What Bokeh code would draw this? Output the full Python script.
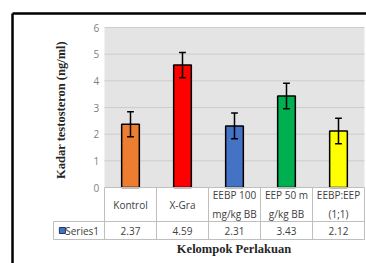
from bokeh.plotting import figure
from bokeh.models import Range1d, ColumnDataSource
from bokeh.core.properties import value
from bokeh.embed import file_html
from bokeh.resources import INLINE

# ---- data ----
categories = ["Kontrol", "X-Gra", "EEBP 100\nmg/kg BB", "EEP 50 m\ng/kg BB", "EEBP:EEP\n(1;1)"]
values = [2.37, 4.59, 2.31, 3.43, 2.12]
errors = [0.47, 0.47, 0.48, 0.48, 0.48]
value_labels = ["2.37", "4.59", "2.31", "3.43", "2.12"]
colors = ["#ED7D31", "#FF0000", "#4472C4", "#00B050", "#FFFF00"]
y_ticks = [0, 1, 2, 3, 4, 5, 6]
series_name = "Series1"
y_title = "Kadar testosteron (ng/ml)"
x_title = "Kelompok Perlakuan"

W, H = 366, 263
p = figure(width=W, height=H, output_backend="svg", toolbar_location=None,
           x_range=Range1d(-2.5, 4.5385), y_range=Range1d(-2.85, 7.0125),
           x_axis_location=None, y_axis_location=None, min_border=0,
           background_fill_color="white", border_fill_color="white")
p.outline_line_color = None
p.xgrid.visible = False
p.ygrid.visible = False

n = len(values)
xs = list(range(n))
ymax = y_ticks[-1]

# plot area background
p.quad(left=[-0.5], right=[n - 0.5], bottom=[0], top=[ymax], fill_color="#e4e4e4", line_color=None)
# gridlines
p.segment(x0=[-0.5] * (len(y_ticks) - 1), x1=[n - 0.5] * (len(y_ticks) - 1),
          y0=y_ticks[1:], y1=y_ticks[1:], line_color="#cdcdcd", line_width=1)

# bars
upper = [v + e for v, e in zip(values, errors)]
lower = [v - e for v, e in zip(values, errors)]
src = ColumnDataSource(dict(x=xs, top=values, color=colors, upper=upper, lower=lower,
                            cl=[x - 0.065 for x in xs], cr=[x + 0.065 for x in xs]))
p.vbar(x="x", top="top", bottom=0, width=0.34, fill_color="color", line_color="black",
       line_width=1.5, source=src)
# error bars
p.segment(x0="x", x1="x", y0="lower", y1="upper", line_color="black", line_width=1.5, source=src)
p.segment(x0="cl", x1="cr", y0="upper", y1="upper", line_color="black", line_width=1.5, source=src)
p.segment(x0="cl", x1="cr", y0="lower", y1="lower", line_color="black", line_width=1.5, source=src)

# y tick labels
p.text(x=[-0.6] * len(y_ticks), y=y_ticks, text=[str(t) for t in y_ticks],
       text_align="right", text_baseline="middle", text_color="#7f7f7f",
       text_font=value("Open Sans"), text_font_size="10px")

# data table
row1 = -1.275
row2 = -1.95
left_col = -1.48
tbl_color = "#bfbfbf"
bounds = [i - 0.5 for i in range(n + 1)]
p.segment(x0=bounds, x1=bounds, y0=[0] * len(bounds), y1=[row2] * len(bounds),
          line_color=tbl_color, line_width=1)
p.segment(x0=[-0.5, left_col, left_col, left_col], x1=[n - 0.5, n - 0.5, n - 0.5, left_col],
          y0=[0, row1, row2, row1], y1=[0, row1, row2, row2],
          line_color=tbl_color, line_width=1)
p.text(x=xs, y=[row1 / 2] * n, text=categories, text_align="center", text_baseline="middle",
       text_color="#404040", text_font=value("Open Sans"), text_font_size="10px",
       text_line_height=1.3)
p.text(x=xs, y=[(row1 + row2) / 2] * n, text=value_labels, text_align="center",
       text_baseline="middle", text_color="#404040", text_font=value("Open Sans"),
       text_font_size="10px")
p.scatter(x=[-1.31], y=[(row1 + row2) / 2], marker="square", size=6,
          fill_color="#4472C4", line_color="#1f3864", line_width=1)
p.text(x=[-1.255], y=[(row1 + row2) / 2], text=[series_name], text_align="left",
       text_baseline="middle", text_color="#404040", text_font=value("Open Sans"),
       text_font_size="10px")

# axis titles
p.text(x=[-1.346], y=[2.906], text=[y_title], angle=1.5708, text_align="center",
       text_baseline="middle", text_color="#262626", text_font=value("Liberation Serif"),
       text_font_size="12.5px", text_font_style="bold")
p.text(x=[1.99], y=[-2.29], text=[x_title], text_align="center", text_baseline="middle",
       text_color="#262626", text_font=value("Liberation Serif"), text_font_size="12.5px",
       text_font_style="bold")

# outer black border (left and top)
p.segment(x0=[-2.269, -2.269], x1=[-2.269, 4.6], y0=[6.525, 6.525], y1=[-3.0, 6.525],
          line_color="black", line_width=2.5)

open("out.html", "w").write(file_html(p, INLINE))
